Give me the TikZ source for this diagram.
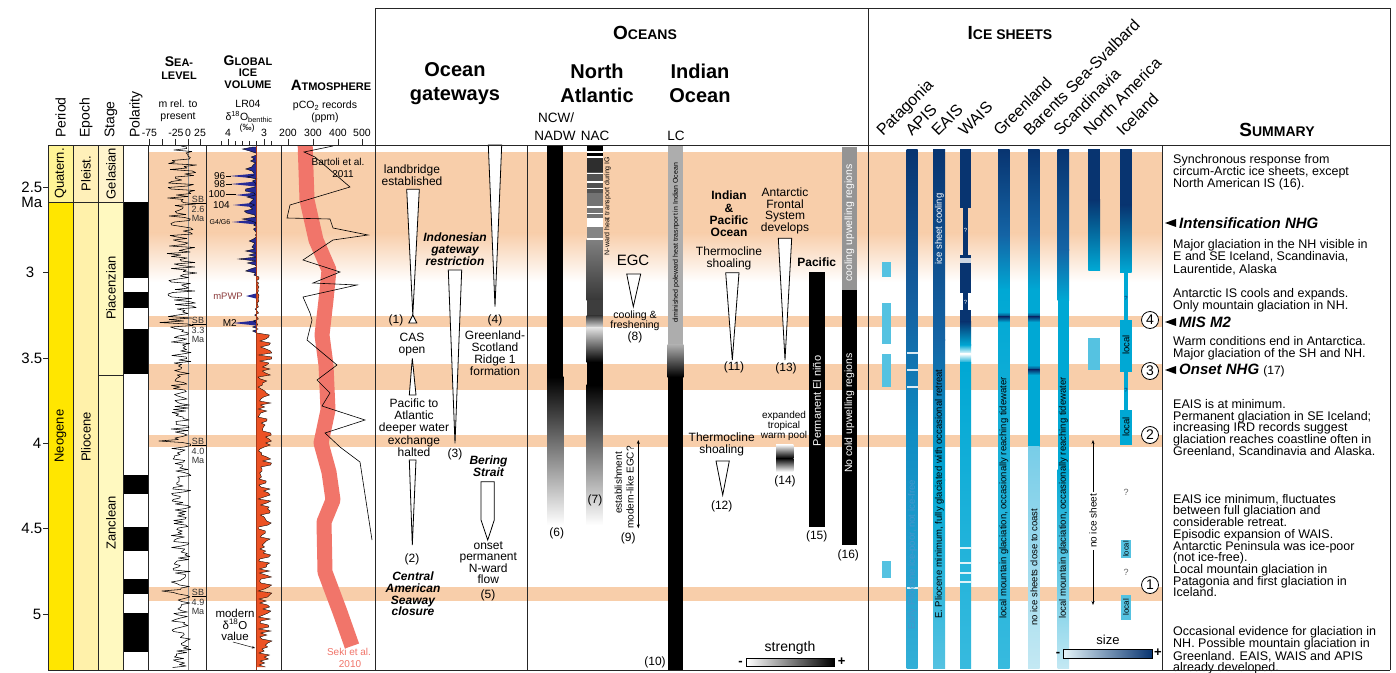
\documentclass[tikz,border=0pt]{standalone}
\usepackage{fontspec}
\setmainfont{Liberation Sans}
\usetikzlibrary{arrows.meta}
\definecolor{band}{RGB}{248,206,170}
\definecolor{navy}{RGB}{8,52,112}
\definecolor{midblue}{RGB}{20,100,165}
\definecolor{icecyan}{RGB}{0,168,212}
\definecolor{lightcyan}{RGB}{85,194,225}
\definecolor{palecyan}{RGB}{195,232,243}
\definecolor{apisA}{RGB}{20,95,160}
\definecolor{apisB}{RGB}{15,140,195}
\definecolor{apisC}{RGB}{50,175,215}
\definecolor{botcyan}{RGB}{55,186,222}
\definecolor{barlight}{RGB}{120,205,232}
\definecolor{perQ}{RGB}{255,244,150}
\definecolor{perN}{RGB}{255,230,0}
\definecolor{epoPl}{RGB}{255,240,185}
\definecolor{epoP}{RGB}{255,241,170}
\definecolor{stgG}{RGB}{255,244,205}
\definecolor{stgP}{RGB}{255,249,192}
\definecolor{sekired}{RGB}{241,117,106}
\definecolor{iceblue}{RGB}{38,42,150}
\definecolor{icered}{RGB}{236,82,36}
\definecolor{mpwp}{RGB}{140,60,60}
\definecolor{faint}{RGB}{70,150,205}
\newcommand{\fsz}[1]{\fontsize{#1}{#1}\selectfont}
\newcommand{\fsl}[2]{\fontsize{#1}{#2}\selectfont}
\newcommand{\mysc}[4]{{\fsz{#3}#1}{\fsz{#4}#2}}
\begin{document}
\begin{tikzpicture}[x=1pt,y=-1pt,
  lbl/.style={inner sep=0pt,align=center},
  wedge/.style={draw=black,fill=white,line width=0.8pt,line join=miter},
  vtxt/.style={rotate=90,inner sep=0pt},
  ax/.style={line width=0.8pt,draw=black!85},
  dbl/.style={{Stealth[length=4pt,width=3pt]}-{Stealth[length=4pt,width=3pt]},line width=0.6pt},
  sb/.style={inner sep=0pt,font=\fsz{9},text=black!80},
  numc/.style={circle,draw,line width=0.8pt,fill=white,inner sep=0pt,minimum size=17pt,font=\fsz{14}},
  slab/.style={rotate=45,anchor=base west,inner sep=0pt,font=\fsz{16}},
  sumtxt/.style={anchor=north west,align=left,inner sep=0pt,font=\fsl{12.5}{12}},
  sumhd/.style={anchor=west,inner sep=0pt,font=\fsz{15}\bfseries\itshape},
  otxt/.style={inner sep=0pt,align=center,font=\fsl{12}{12}},
  btxt/.style={inner sep=0pt,align=center,font=\fsl{12}{12}\bfseries\itshape},
]
\useasboundingbox (0,0) rectangle (1396,672);
\fill[white] (0,0) rectangle (1396,672);

% ---------------- orange bands
\fill[band] (148,152) rectangle (1162.5,233);
\shade[top color=band,bottom color=white] (148,232.6) rectangle (1162.5,282);
\foreach \a/\b in {316/327,364/390,435/447,587/601}{\fill[band] (148,\a) rectangle (1162.5,\b);}

% ---------------- chronostratigraphy columns
\fill[perQ] (48,145) rectangle (73,202);
\fill[perN] (48,202) rectangle (73,670);
\fill[epoPl] (73,145) rectangle (98.7,202);
\fill[epoP] (73,202) rectangle (98.7,670);
\fill[stgG] (98.7,145) rectangle (123.7,202);
\fill[stgP] (98.7,202) rectangle (123.7,670);
\foreach \a/\b in {202/277.7,291.7/307.7,329/374.3,475/494,526.7/551,579/594.3,612.7/652.3}{\fill[black] (123.7,\a) rectangle (148.3,\b);}

\node[vtxt,font=\fsz{13}] (quat) at (60.5,173.5) {Quatern.};
\node[vtxt,font=\fsz{13}] (pleist) at (86,173.5) {Pleist.};
\node[vtxt,font=\fsz{13}] (gelas) at (111,173.5) {Gelasian};
\node[vtxt,font=\fsz{13}] (neog) at (60.5,436) {Neogene};
\node[vtxt,font=\fsz{13}] (plioc) at (86,437) {Pliocene};
\node[vtxt,font=\fsz{13}] (piac) at (111,288) {Piacenzian};
\node[vtxt,font=\fsz{13}] (zancl) at (111,523) {Zanclean};

\node[vtxt,anchor=west,font=\fsz{14}] (hper) at (60.5,138) {Period};
\node[vtxt,anchor=west,font=\fsz{14}] (hepo) at (86,138) {Epoch};
\node[vtxt,anchor=west,font=\fsz{14}] (hstg) at (111,138) {Stage};
\node[vtxt,anchor=west,font=\fsz{14}] (hpol) at (136,138) {Polarity};

% time axis
\foreach \y in {187.3,272.6,358,443.3,528.6,614}{\draw[ax] (43,\y) -- (48,\y);}
\node[anchor=east,inner sep=0,font=\fsz{15}] (t25) at (42.5,187.3) {2.5};
\node[anchor=east,inner sep=0,font=\fsz{15}] (tma) at (42.5,202) {Ma};
\node[inner sep=0,font=\fsz{15}] (t30) at (30,272.6) {3};
\node[anchor=east,inner sep=0,font=\fsz{15}] (t35) at (42.5,358) {3.5};
\node[inner sep=0,font=\fsz{15}] (t40) at (37,443.3) {4};
\node[anchor=east,inner sep=0,font=\fsz{15}] (t45) at (42.5,528.6) {4.5};
\node[inner sep=0,font=\fsz{15}] (t50) at (37,614) {5};

% ---------------- sea level
\draw[black!45,line width=0.6pt] (188,145) -- (188,670);
\pgfmathsetseed{4242}
\gdef\slpath{}
\foreach \yy in {147,148.5,...,668}{%
  \pgfmathsetmacro\xx{(abs(\yy-323)<1) ? 160 : ((abs(\yy-441)<1) ? 159 : ((abs(\yy-591)<1) ? 162 : (\yy<330 ? 182+15*rand : 181+10*rand)))}%
  \xdef\slpath{\slpath -- (\xx,\yy)}%
}
\draw[line width=0.55pt,line join=round] (181,146) \slpath;
\node[lbl] (slh1) at (179,62) {\bfseries\mysc{S}{EA-}{14}{11}};
\node[lbl,font=\fsz{11}\bfseries] (slh2) at (179,76) {LEVEL};
\node[lbl,font=\fsz{10.5}] (slh3) at (178,104) {m rel. to};
\node[lbl,font=\fsz{10.5}] (slh4) at (178,117) {present};
\foreach \x/\t in {149.5/-75,176/-25,188/0,200/25}{\node[lbl,font=\fsz{10.5}] at (\x,133) {\t};}
\foreach \x in {149,162,175,188,200}{\draw[ax] (\x,139) -- (\x,145);}
\foreach \y/\a/\b in {199/2.6/Ma,320/3.3/Ma,441/4.0/Ma,592/4.9/Ma}{%
  \node[sb] at (198,\y) {SB};
  \draw[line width=0.4pt] (192,\y+4.5) -- (206,\y+4.5);
  \node[sb] at (198,\y+10) {\a};
  \node[sb] at (198,\y+19) {\b};}

% ---------------- global ice volume
\gdef\icepath{}
\foreach \yy in {147,149,...,667}{%
  \pgfmathsetmacro\xx{\yy<272 ? 257-22*rnd*rnd : (\yy<335 ? 259-9*rnd*rnd : 258+14*rnd)}%
  \xdef\icepath{\icepath -- (\xx,\yy)}%
}
\begin{scope}
\clip (207,145) rectangle (256,670);
\fill[iceblue] (256,147) \icepath -- (256,667) -- cycle;
\end{scope}
\begin{scope}
\clip (256,145) rectangle (281,670);
\fill[icered] (256,147) \icepath -- (256,667) -- cycle;
\end{scope}
\foreach \y/\x in {176/230,184/231,195/236,205/233,222/232,296/246,323/233}{\fill[iceblue] (256,\y-2.5) -- (\x,\y) -- (256,\y+2.5) -- cycle;}
\draw[line width=0.35pt] (256,147) \icepath;
\draw[line width=0.6pt,draw=icered!70!black] (256,145) -- (256,670);
\node[lbl] (gih1) at (248,61) {\bfseries\mysc{G}{LOBAL}{14}{11}};
\node[lbl,font=\fsz{11}\bfseries] (gih2) at (248,73) {ICE};
\node[lbl,font=\fsz{11}\bfseries] (gih3) at (248,85) {VOLUME};
\node[lbl,font=\fsz{10.5}] (gih4) at (248,104) {LR04};
\node[lbl,font=\fsz{10.5}] (gih5) at (249,117) {δ\textsuperscript{18}O\textsubscript{benthic}};
\node[lbl,font=\fsz{9}] (gih6) at (247,128) {(‰)};
\node[lbl,font=\fsz{10.5}] (gi4) at (228,133) {4};
\node[lbl,font=\fsz{10.5}] (gi3) at (264,133) {3};
\foreach \x in {221,235,242,249,256,271}{\draw[ax] (\x,141) -- (\x,145);}
\foreach \x in {228,264}{\draw[ax] (\x,139) -- (\x,145);}
\node[anchor=east,inner sep=0,font=\fsz{10}] (l96) at (225.5,176) {96};
\node[anchor=east,inner sep=0,font=\fsz{10}] (l98) at (225.5,184) {98};
\node[anchor=east,inner sep=0,font=\fsz{10}] (l100) at (225.5,194.5) {100};
\node[anchor=east,inner sep=0,font=\fsz{10}] (l104) at (230,205) {104};
\node[anchor=east,inner sep=0,font=\fsz{7}] (lg4) at (230.5,222) {G4/G6};
\node[anchor=east,inner sep=0,font=\fsz{9.5},text=mpwp] (lmp) at (243,296) {mPWP};
\node[anchor=east,inner sep=0,font=\fsz{10}] (lm2) at (237,323) {M2};
\foreach \y/\a/\b in {176/226/231,184/226/232,194.5/226/236}{\draw[line width=0.4pt] (\a,\y) -- (\b,\y);}
\node[lbl,font=\fsl{11.5}{11.5}] (mod) at (235,625) {modern\\δ\textsuperscript{18}O\\value};
\coordinate (mva) at (233,642);
\coordinate (mvb) at (255,648);
\draw[-{Stealth[length=3pt,width=2.5pt]},line width=0.5pt] (mva) -- (mvb);

% ---------------- atmosphere
\begin{scope}
\clip (281.7,145) rectangle (375,670);
\draw[sekired,line width=15pt,line join=round] (305,140) -- (307,200) -- (316,240) -- (329,270) -- (326,300) -- (322,335) -- (326,365) -- (328,410) -- (321,443) -- (329,472) -- (333,500) -- (324,522) -- (325,572) -- (340,612) -- (352,646);
\draw[line width=0.6pt] (333,146) -- (304,152) -- (315,157) -- (350,187) -- (290,205) -- (287,218) -- (330,219) -- (333,228) -- (368,235) -- (333,240) -- (303,260) -- (340,272) -- (313,283) -- (357,285) -- (303,297) -- (310,313) -- (312,320) -- (307,340) -- (337,365) -- (317,380) -- (330,393) -- (322,406) -- (365,420) -- (325,433) -- (340,447) -- (360,462) -- (372,540);
\end{scope}
\node[lbl] (ath1) at (331,85) {\bfseries\mysc{A}{TMOSPHERE}{15}{11}};
\node[lbl,font=\fsz{10.5}] (ath2) at (325,106) {pCO\textsubscript{2} records};
\node[lbl,font=\fsz{10.5}] (ath3) at (325,118) {(ppm)};
\foreach \x/\t in {288/200,313/300,338/400,362/500}{\node[lbl,font=\fsz{10.5}] at (\x,133) {\t}; \draw[ax] (\x,139) -- (\x,145);}
\node[lbl,font=\fsz{10}] (bart1) at (338,162) {Bartoli et al.};
\node[lbl,font=\fsz{10}] (bart2) at (343,174) {2011};
\node[lbl,font=\fsz{10},text=sekired] (seki1) at (349,652) {Seki et al.};
\node[lbl,font=\fsz{10},text=sekired] (seki2) at (350,664) {2010};

% ---------------- oceans: header
\node[inner sep=0] (hoc) at (645,33) {\bfseries\mysc{O}{CEANS}{19}{14}};
\node[lbl,font=\fsl{20}{24}\bfseries] (hog) at (455,84) {Ocean\\gateways};
\node[lbl,font=\fsl{20}{24}\bfseries] (hna) at (597,83.5) {North\\Atlantic};
\node[lbl,font=\fsl{20}{24}\bfseries] (hio) at (700,83.5) {Indian\\Ocean};
\node[lbl,font=\fsz{13.5}] (hncw) at (556,118) {NCW/};
\node[lbl,font=\fsz{13.5}] (hnadw) at (555,135.5) {NADW};
\node[lbl,font=\fsz{13.5}] (hnac) at (595,135.5) {NAC};
\node[lbl,font=\fsz{13.5}] (hlc) at (676,135.5) {LC};

% ---------------- ocean gateways
\node[otxt] (lb) at (412,175) {landbridge\\established};
\draw[wedge] (406.7,189.3) -- (419.3,189.3) -- (412.8,315) -- cycle;
\draw[wedge] (412.8,315) -- (416.8,323) -- (408.8,323) -- cycle;
\node[otxt] (n1) at (396,320) {(1)};
\node[btxt] (igr) at (455,249) {Indonesian\\gateway\\restriction};
\draw[wedge] (448.3,270) -- (461.7,270) -- (455,443.3) -- cycle;
\node[otxt] (n3) at (455,454) {(3)};
\draw[wedge] (488.3,145) -- (501.7,145) -- (495,306.7) -- cycle;
\node[otxt] (n4) at (495,320) {(4)};
\node[otxt] (cas) at (412,345) {CAS\\open};
\draw[wedge] (412.3,358.3) -- (416,395) -- (409.3,395) -- cycle;
\node[otxt,font=\fsl{12}{12.3}] (pac) at (414,427.5) {Pacific to\\Atlantic\\deeper water\\exchange\\halted};
\draw[wedge] (409.3,460) -- (416,460) -- (412.3,545) -- cycle;
\node[otxt] (n2) at (412,559) {(2)};
\node[btxt,font=\fsl{12}{11.7}\bfseries\itshape] (cas2) at (413,594) {Central\\American\\Seaway\\closure};
\node[otxt] (gsr) at (495,353) {Greenland-\\Scotland\\Ridge 1\\formation};
\node[btxt,font=\fsl{12}{10.5}\bfseries\itshape] (ber) at (488.5,466.5) {Bering\\Strait};
\draw[wedge] (481,481.7) -- (494.3,481.7) -- (494.3,520) -- (487.7,540) -- (481,520) -- cycle;
\node[otxt,font=\fsl{12}{10.6}] (onset) at (488.3,562.5) {onset\\permanent\\N-ward\\flow};
\node[otxt] (n5) at (488,595) {(5)};

% ---------------- North Atlantic
\fill[black] (547.3,146) rectangle (563.3,377);
\shade[top color=black,bottom color=white] (547.3,376.8) rectangle (563.3,525);
\node[otxt] (n6) at (556.7,533.3) {(6)};
\fill[black] (586.7,146) rectangle (602.7,158);
\fill[black!82] (586.7,158) rectangle (602.7,172);
\fill[black!68] (586.7,172) rectangle (602.7,193);
\fill[black!55] (586.7,193) rectangle (602.7,218);
\fill[white] (586.7,218) rectangle (602.7,227);
\fill[black!48] (586.7,227) rectangle (602.7,240);
\shade[top color=black!50,bottom color=black!78] (586.7,239.8) rectangle (602.7,300);
\fill[black!76] (586.7,299.8) rectangle (602.7,316);
\shade[top color=black!76,bottom color=black!12] (586.7,315.8) rectangle (602.7,328);
\shade[top color=black!12,bottom color=black] (586.7,327.8) rectangle (602.7,362);
\fill[black] (586.7,361.8) rectangle (602.7,385);
\shade[top color=black,bottom color=white] (586.7,384.8) rectangle (602.7,525);
\foreach \y in {151.7,156.7,173.3,181.7,188.3,206.7,213.3,239}{\fill[white] (586.7,\y-0.8) rectangle (602.7,\y+0.8);}
\node[vtxt,font=\fsz{7}] (nact) at (607.5,206) {N-ward heat transport during IG};
\node[otxt] (n7) at (595,500) {(7)};
\node[inner sep=0,font=\fsz{15}] (egc) at (633,260) {EGC};
\draw[wedge] (626.7,274) -- (640.7,274) -- (633.3,306.7) -- cycle;
\node[otxt,font=\fsl{10.5}{10}] (cool) at (635,320.5) {cooling \&\\freshening};
\node[otxt] (n8) at (635,337) {(8)};
\node[vtxt,font=\fsz{10}] (est1) at (618.3,483) {establishment};
\node[vtxt,font=\fsz{10}] (est2) at (630,487.5) {modern-like EGC?};
\coordinate (e9a) at (638.3,440);
\coordinate (e9b) at (638.3,528.3);
\draw[dbl] (e9a) -- (e9b);
\node[otxt] (n9) at (628.3,538.3) {(9)};

% ---------------- Indian Ocean
\fill[black!32] (667.7,146) rectangle (683.3,345);
\shade[top color=black!32,bottom color=black] (667.7,344.8) rectangle (683.3,377);
\fill[black] (667.7,376.8) rectangle (683.3,670);
\node[vtxt,font=\fsz{7}] (lct) at (676,243) {diminished poleward heat trasnport in Indian Ocean};
\node[otxt] (n10) at (655,662.7) {(10)};
\node[otxt,font=\fsl{12}{12.2}\bfseries] (ipo) at (729,214) {Indian\\\&\\Pacific\\Ocean};
\node[otxt] (ts1) at (729,258) {Thermocline\\shoaling};
\draw[wedge] (725.7,272.7) -- (739,272.7) -- (732.3,360) -- cycle;
\node[otxt] (n11) at (734,367) {(11)};
\node[otxt,font=\fsl{12}{11.7}] (afs) at (785,211) {Antarctic\\Frontal\\System\\develops};
\draw[wedge] (778.3,238.3) -- (791.7,238.3) -- (785,360) -- cycle;
\node[otxt] (n13) at (786,368.3) {(13)};
\node[otxt,font=\fsz{12}\bfseries] (pacl) at (816.7,262) {Pacific};
\fill[black] (809,272) rectangle (825,526.7);
\node[vtxt,font=\fsz{11},text=white] (eln) at (817,401) {Permanent El niño};
\node[otxt] (n15) at (816.7,536.7) {(15)};
\fill[black!42] (842.3,146.7) rectangle (856.7,290);
\fill[black] (842.3,290) rectangle (856.7,545);
\node[vtxt,font=\fsz{10.5},text=white] (cur) at (849.5,223) {cooling upwelling regions};
\node[vtxt,font=\fsz{10.5},text=white] (ncur) at (849.5,413) {No cold upwelling regions};
\node[otxt] (n16) at (848.3,555) {(16)};
\node[otxt] (ts2) at (721.7,444.5) {Thermocline\\shoaling};
\draw[wedge] (716,461) -- (729.3,461) -- (722.7,495) -- cycle;
\node[otxt] (n12) at (721.7,506.7) {(12)};
\node[otxt,font=\fsl{10}{9.7}] (etw) at (784,426) {expanded\\tropical\\warm pool};
\shade[top color=white,bottom color=black] (776,444.3) rectangle (793.3,458.2);
\shade[top color=black,bottom color=white] (776,458) rectangle (793.3,471.7);
\node[otxt] (n14) at (785,481.7) {(14)};
\node[inner sep=0,font=\fsz{14}] (strl) at (790,648.3) {strength};
\shade[left color=white,right color=black] (746.7,658.3) rectangle (834,666.7);
\draw[line width=0.5pt] (746.7,658.3) rectangle (834,666.7);
\node[inner sep=0,font=\fsz{13}\bfseries] (stm) at (740.5,663) {-};
\node[inner sep=0,font=\fsz{13}\bfseries] (stp) at (841.7,662) {+};

% ---------------- ice sheets
\node[inner sep=0] (hice) at (1010,33) {\bfseries\mysc{I}{CE SHEETS}{19}{14}};
\node[slab] (lpat) at (883,137) {Patagonia};
\node[slab] (lapis) at (912,137) {APIS};
\node[slab] (leais) at (938,137) {EAIS};
\node[slab] (lwais) at (965,137) {WAIS};
\node[slab] (lgre) at (1000,137) {Greenland};
\node[slab] (lbar) at (1030,137) {Barents Sea-Svalbard};
\node[slab] (lsca) at (1060,137) {Scandinavia};
\node[slab] (lnam) at (1090,137) {North America};
\node[slab] (lice) at (1123,137) {Iceland};

% Patagonia
\foreach \a/\b in {261.7/276.7,303.3/344,354/386.7,560.7/578.3}{\fill[lightcyan] (881.7,\a) rectangle (890.7,\b);}
% APIS
\shade[top color=navy,bottom color=apisA] (906.7,149) rectangle (917.7,300);
\shade[top color=apisA,bottom color=apisB] (906.7,299.8) rectangle (917.7,430);
\shade[top color=apisB,bottom color=apisC] (906.7,429.8) rectangle (917.7,668);
\foreach \y in {353.3,370,386.7,588.3}{\fill[white,opacity=0.85] (906.7,\y-1) rectangle (917.7,\y+1);}
\node[vtxt,font=\fsz{9.5},text=faint] (apt) at (912.5,555) {Early Pliocene ice-poor, not ice-free};
% EAIS
\shade[top color=navy,bottom color=midblue] (933,149) rectangle (945,340);
\shade[top color=midblue,bottom color=icecyan] (933,339.8) rectangle (945,480);
\shade[top color=icecyan,bottom color=lightcyan] (933,479.8) rectangle (945,668);
\node[vtxt,font=\fsz{9.5},text=white] (eaist1) at (939.5,229) {ice sheet cooling};
\node[vtxt,font=\fsz{9.5}] (eaist2) at (939.5,494) {E. Pliocene minimum, fully glaciated with occasional retreat};
% WAIS
\fill[navy] (960,149) rectangle (971,208.3);
\fill[navy] (963.3,208) rectangle (967.7,255.3);
\fill[navy] (960,255) rectangle (971,293.3);
\fill[white,opacity=0.8] (960,257.5) rectangle (971,262.5);
\fill[navy] (963.3,293) rectangle (967.7,310.3);
\fill[navy] (960,310) rectangle (971,322);
\shade[top color=navy,bottom color=icecyan] (960,321.8) rectangle (971,345);
\shade[top color=icecyan,bottom color=white] (960,344.8) rectangle (971,354);
\shade[top color=white,bottom color=icecyan] (960,353.8) rectangle (971,363);
\shade[top color=icecyan,bottom color=botcyan] (960,362.8) rectangle (971,668);
\foreach \y in {548,563,573,582}{\fill[white,opacity=0.85] (960,\y-0.8) rectangle (971,\y+0.8);}
\node[inner sep=0,font=\fsz{6},text=white] (wq1) at (965.5,230) {?};
\node[inner sep=0,font=\fsz{6},text=white] (wq2) at (965.5,302) {?};
% Greenland
\shade[top color=navy,bottom color=midblue] (998,149) rectangle (1009.5,235);
\shade[top color=midblue,bottom color=icecyan] (998,234.8) rectangle (1009.5,290);
\shade[top color=icecyan,bottom color=botcyan] (998,289.8) rectangle (1009.5,668);
\shade[top color=icecyan,bottom color=navy] (998,312) rectangle (1009.5,317);
\shade[top color=navy,bottom color=icecyan] (998,316.8) rectangle (1009.5,322);
\node[vtxt,font=\fsz{9.5}] (grt) at (1004,498) {local mountain glaciation, occasionally reaching tidewater};
% Barents
\shade[top color=navy,bottom color=midblue] (1028,149) rectangle (1039.5,235);
\shade[top color=midblue,bottom color=icecyan] (1028,234.8) rectangle (1039.5,290);
\fill[icecyan] (1028,289.8) rectangle (1039.5,447);
\shade[top color=barlight,bottom color=palecyan] (1028,446.8) rectangle (1039.5,668);
\foreach \y in {317,370}{\shade[top color=icecyan,bottom color=navy] (1028,\y-5) rectangle (1039.5,\y); \shade[top color=navy,bottom color=icecyan] (1028,\y-0.2) rectangle (1039.5,\y+5);}
\node[vtxt,font=\fsz{9.5}] (bst) at (1034,567) {no ice sheets close to coast};
% Scandinavia
\shade[top color=navy,bottom color=midblue] (1057.5,149) rectangle (1069,250);
\shade[top color=midblue,bottom color=icecyan] (1057.5,249.8) rectangle (1069,300);
\fill[icecyan] (1057.5,299.8) rectangle (1069,470);
\shade[top color=icecyan,bottom color=palecyan] (1057.5,469.8) rectangle (1069,668);
\node[vtxt,font=\fsz{9.5}] (sct) at (1063.5,498) {local mountain glaciation, occasionally reaching tidewater};
% North America
\fill[navy] (1088.3,149) rectangle (1100,200);
\shade[top color=navy,bottom color=icecyan] (1088.3,199.8) rectangle (1100,270);
\fill[lightcyan] (1088.3,337.7) rectangle (1100,370);
\coordinate (nia) at (1093,440);
\coordinate (nib) at (1093,605);
\draw[dbl] (nia) -- (nib);
\node[vtxt,fill=white,inner sep=2pt,font=\fsz{10}] (nit) at (1093,521) {no ice sheet};
% Iceland
\fill[navy] (1120,149) rectangle (1131.7,205);
\shade[top color=navy,bottom color=icecyan] (1120,204.8) rectangle (1131.7,272);
\fill[icecyan] (1124,271.8) rectangle (1127.7,320.2);
\fill[icecyan] (1120,320) rectangle (1131.7,372);
\fill[icecyan] (1124,371.8) rectangle (1127.7,410.2);
\fill[icecyan] (1120,410) rectangle (1131.7,445);
\fill[lightcyan] (1120.7,540) rectangle (1131,558.3);
\fill[lightcyan] (1120.7,595) rectangle (1131,620);
\node[vtxt,font=\fsz{9.5}] (il1) at (1126,345) {local};
\node[vtxt,font=\fsz{9.5}] (il2) at (1126,427) {local};
\node[vtxt,font=\fsz{7.5}] (il3) at (1126,549) {local};
\node[vtxt,font=\fsz{8}] (il4) at (1126,607) {local};
\node[inner sep=0,font=\fsz{6},text=navy] (iq1) at (1126,298) {?};
\node[inner sep=0,font=\fsz{6},text=navy] (iq2) at (1126,390) {?};
\node[inner sep=0,font=\fsz{9},text=black!60] (iq3) at (1126,492) {?};
\node[inner sep=0,font=\fsz{9},text=black!60] (iq4) at (1126,572) {?};
% circled numbers
\node[numc] (c4) at (1150,320) {4};
\node[numc] (c3) at (1150,371) {3};
\node[numc] (c2) at (1150,435) {2};
\node[numc] (c1) at (1150,585) {1};
% size legend
\node[inner sep=0,font=\fsz{13}] (sizel) at (1108,640) {size};
\shade[left color=palecyan!40!white,middle color=icecyan,right color=navy] (1063,649) rectangle (1152,658);
\draw[line width=0.5pt] (1063,649) rectangle (1152,658);
\node[inner sep=0,font=\fsz{13}\bfseries] (szm) at (1058,654) {-};
\node[inner sep=0,font=\fsz{13}\bfseries] (szp) at (1158,653) {+};

% ---------------- summary
\node[inner sep=0] (hsum) at (1277,130) {\bfseries\mysc{S}{UMMARY}{19}{14}};
\node[sumtxt] (s1) at (1173,154) {Synchronous response from\\circum-Arctic ice sheets, except\\North American IS (16).};
\fill (1165,223) -- (1176,219) -- (1176,227) -- cycle;
\node[sumhd] (s2) at (1179,223) {Intensification NHG};
\node[sumtxt,font=\fsl{12.5}{12.5}] (s3) at (1173,239) {Major glaciation in the NH visible in\\E and SE Iceland, Scandinavia,\\Laurentide, Alaska};
\node[sumtxt] (s4) at (1173,288) {Antarctic IS cools and expands.\\Only mountain glaciation in NH.};
\fill (1165,322) -- (1176,318) -- (1176,326) -- cycle;
\node[sumhd] (s5) at (1179,322) {MIS M2};
\node[sumtxt] (s6) at (1173,336) {Warm conditions end in Antarctica.\\Major glaciation of the SH and NH.};
\fill (1165,370) -- (1176,366) -- (1176,374) -- cycle;
\node[sumhd] (s7) at (1179,370) {Onset NHG {\normalfont\fsz{12}(17)}};
\node[sumtxt,font=\fsl{12.5}{11.8}] (s8) at (1173,399) {EAIS is at minimum.\\Permanent glaciation in SE Iceland;\\increasing IRD records suggest\\glaciation reaches coastline often in\\Greenland, Scandinavia and Alaska.};
\node[sumtxt,font=\fsl{12.5}{11.7}] (s9) at (1173,494) {EAIS ice minimum, fluctuates\\between full glaciation and\\considerable retreat.\\Episodic expansion of WAIS.\\Antarctic Peninsula was ice-poor\\(not ice-free).\\Local mountain glaciation in\\Patagonia and first glaciation in\\Iceland.};
\node[sumtxt,font=\fsl{12.5}{11.3}] (s10) at (1173,626) {Occasional evidence for glaciation in\\NH. Possible mountain glaciation in\\Greenland. EAIS, WAIS and APIS\\already developed.};

% ---------------- frame lines
\draw[ax] (48,145) -- (1390,145);
\draw[ax] (48,670) -- (1390,670);
\foreach \x in {48,73,98.7,123.7,148.3,206.7,281.7}{\draw[ax] (\x,145) -- (\x,670);}
\draw[ax] (48,202) -- (123.7,202);
\draw[ax] (98.7,375) -- (123.7,375);
\draw[ax] (375,8) -- (1390,8) -- (1390,670);
\draw[ax] (375,8) -- (375,670);
\draw[ax] (868.7,8) -- (868.7,670);
\draw[ax] (1162.5,145) -- (1162.5,670);
\draw[ax] (527.7,145) -- (527.7,670);
\end{tikzpicture}
\end{document}
